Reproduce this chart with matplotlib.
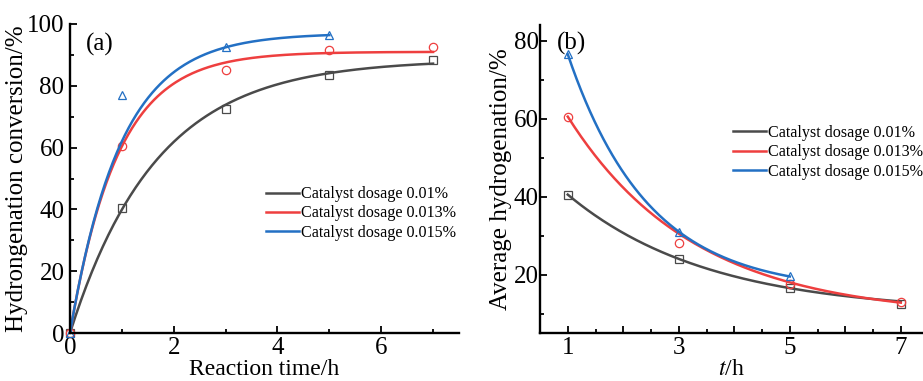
import numpy as np
import matplotlib
matplotlib.use('Agg')
import matplotlib.pyplot as plt
from matplotlib.ticker import MultipleLocator, FuncFormatter

plt.rcParams['font.family'] = ['Liberation Serif', 'DejaVu Serif']
plt.rcParams['mathtext.fontset'] = 'stix'

labels = ['Catalyst dosage 0.01%', 'Catalyst dosage 0.013%', 'Catalyst dosage 0.015%']
colors = ['#4a4a4a', '#ee3f3f', '#2370c4']
markers = ['s', 'o', '^']

# (a) conversion vs reaction time
time_a = [[0, 1, 3, 5, 7], [0, 1, 3, 5, 7], [0, 1, 3, 5]]
conv_a = [[0, 40.5, 72.5, 83.5, 88.5],
          [0, 60.5, 85.0, 91.5, 92.5],
          [0, 77.0, 92.5, 96.5]]
# fitted curves y = A*(1-exp(-k*x)), parameters
fit_a_amp = [88.5, 91.0, 97.0]
fit_a_k = [0.60, 1.09, 1.02]

# (b) average hydrogenation vs t
time_b = [[1, 3, 5, 7], [1, 3, 5, 7], [1, 3, 5]]
avg_b = [[40.5, 24.0, 16.5, 12.5],
         [60.5, 28.0, 17.5, 13.0],
         [76.5, 31.0, 19.5]]
# fitted curves y = y0 + A*exp(-k*(x-1))
fit_b_y0 = [10.25, 9.07, 15.61]
fit_b_amp = [30.25, 51.43, 60.89]
fit_b_k = [0.394, 0.438, 0.688]

fig = plt.figure(figsize=(9.23, 3.81), dpi=100)
ax1 = fig.add_axes([70 / 923, 48 / 381, 389 / 923, 309 / 381])
ax2 = fig.add_axes([540 / 923, 48 / 381, 383 / 923, 308 / 381])

FS = 18


def style(ax):
    for s in ['top', 'right']:
        ax.spines[s].set_visible(False)
    for s in ['left', 'bottom']:
        ax.spines[s].set_linewidth(1.7)
    ax.tick_params(which='both', direction='in', width=1.3, labelsize=FS)
    ax.tick_params(which='major', length=5)
    ax.tick_params(which='minor', length=3)
    ax.tick_params(axis='x', pad=3)


# panel (a)
for i in range(3):
    xs = np.linspace(0, max(time_a[i]), 200)
    ax1.plot(xs, fit_a_amp[i] * (1 - np.exp(-fit_a_k[i] * xs)), color=colors[i], lw=1.8, label=labels[i])
    ax1.plot(time_a[i], conv_a[i], ls='none', marker=markers[i], ms=6, mfc='none',
             mec=colors[i], mew=0.9, clip_on=False)
ax1.set_xlim(0, 7.5)
ax1.set_ylim(0, 100)
ax1.xaxis.set_major_locator(MultipleLocator(2))
ax1.xaxis.set_minor_locator(MultipleLocator(1))
ax1.yaxis.set_major_locator(MultipleLocator(20))
ax1.yaxis.set_minor_locator(MultipleLocator(10))
style(ax1)
ax1.tick_params(axis='y', pad=4)
ax1.set_xlabel('Reaction time/h', fontsize=17, labelpad=0)
ax1.set_ylabel('Hydrongenation conversion/%', fontsize=FS, labelpad=-1)
ax1.text(0.04, 0.935, '(a)', transform=ax1.transAxes, fontsize=FS, va='center', ha='left')
ax1.legend(loc='upper left', bbox_to_anchor=(0.505, 0.475), frameon=False, fontsize=11.6,
           handlelength=2.0, handletextpad=0.15, labelspacing=0.2, borderpad=0, borderaxespad=0)

# panel (b)
for i in range(3):
    xs = np.linspace(1, max(time_b[i]), 200)
    ys = fit_b_y0[i] + fit_b_amp[i] * np.exp(-fit_b_k[i] * (xs - 1))
    ax2.plot(xs, ys, color=colors[i], lw=1.8, label=labels[i])
    ax2.plot(time_b[i], avg_b[i], ls='none', marker=markers[i], ms=6, mfc='none',
             mec=colors[i], mew=0.9, clip_on=False)
ax2.set_xlim(0.5, 7.4)
ax2.set_ylim(5, 84)
ax2.xaxis.set_major_locator(MultipleLocator(1))
ax2.xaxis.set_minor_locator(MultipleLocator(0.5))
ax2.xaxis.set_major_formatter(FuncFormatter(lambda v, p: '%d' % v if int(round(v)) % 2 == 1 else ''))
ax2.yaxis.set_major_locator(MultipleLocator(20))
ax2.yaxis.set_minor_locator(MultipleLocator(10))
style(ax2)
ax2.tick_params(axis='y', pad=1)
ax2.set_xlabel('$t$/h', fontsize=17, labelpad=0)
ax2.set_ylabel('Average hydrogenation/%', fontsize=FS, labelpad=1)
ax2.text(0.045, 0.94, '(b)', transform=ax2.transAxes, fontsize=FS, va='center', ha='left')
ax2.legend(loc='upper left', bbox_to_anchor=(0.505, 0.675), frameon=False, fontsize=11.6,
           handlelength=2.0, handletextpad=0.15, labelspacing=0.2, borderpad=0, borderaxespad=0)

fig.savefig('out.png', dpi=100)
